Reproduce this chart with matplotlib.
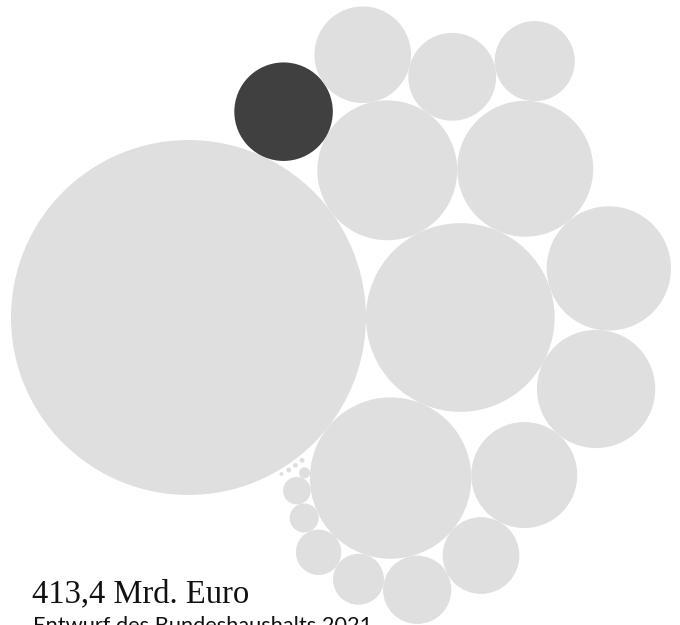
import math
import matplotlib
matplotlib.use("Agg")
import matplotlib.pyplot as plt
from matplotlib.patches import Circle

# Ausgaben je Einzelplan, Mrd. Euro (Kreisfläche proportional zum Betrag)
values = [164.9, 46.6, 34.1, 25.6, 24.2, 20.2, 18.3, 14.7, 12.7, 12.2,
          10.1, 8.4, 7.7, 6.1, 3.4, 2.7, 1.1, 1.0, 0.16,
          0.03, 0.03, 0.03, 0.02]
highlight = 8            # hervorgehobener Einzelplan
total_label = "413,4 Mrd. Euro"
subtitle = "Entwurf des Bundeshaushalts 2021"

LIGHT = "#dfdfdf"
DARK = "#404040"

W, H = 680, 625
R_SCALE = 13.82          # px per sqrt(Mrd. Euro)
BIG_LEFT, BIG_CY = 11.0, 317.5

radii = [R_SCALE * math.sqrt(v) for v in values]

# Packing rules: circle i touches circles a and b, on side s of a->b
rules = [
    (3, 0, 1, -1), (2, 0, 1, +1), (4, 3, 1, -1), (8, 0, 3, -1),
    (9, 8, 3, -1), (10, 9, 3, -1), (11, 10, 4, -1), (5, 4, 1, -1),
    (6, 5, 1, -1), (7, 6, 2, -1), (12, 7, 2, -1), (13, 12, 2, -1),
    (14, 13, 2, -1), (15, 14, 2, -1), (16, 15, 2, -1), (17, 16, 2, -1),
    (18, 17, 2, -1),
]


def touching(a, b, r, side):
    (xa, ya, ra), (xb, yb, rb) = a, b
    da, db = ra + r, rb + r
    dx, dy = xb - xa, yb - ya
    d = math.hypot(dx, dy)
    ux, uy = dx / d, dy / d
    along = (da * da - db * db + d * d) / (2 * d)
    h = math.sqrt(max(da * da - along * along, 0.0))
    nx, ny = -uy, ux
    return xa + along * ux + side * h * nx, ya + along * uy + side * h * ny


pos = {}
pos[0] = (BIG_LEFT + radii[0], BIG_CY, radii[0])
pos[1] = (pos[0][0] + radii[0] + radii[1], BIG_CY, radii[1])
for i, a, b, s in rules:
    x, y = touching(pos[a], pos[b], radii[i], s)
    pos[i] = (x, y, radii[i])

# the tiniest plans sit in a row along the rim of the largest circle
ring_gap, start_deg, step_deg = 2.6, 51.5, 2.6
for k, i in enumerate(range(19, len(values))):
    ang = math.radians(start_deg + k * step_deg)
    dist = radii[0] + ring_gap + radii[i]
    pos[i] = (pos[0][0] + dist * math.cos(ang), pos[0][1] + dist * math.sin(ang), radii[i])

fig = plt.figure(figsize=(W / 100, H / 100), dpi=100)
ax = fig.add_axes([0, 0, 1, 1])
ax.set_xlim(0, W)
ax.set_ylim(H, 0)
ax.set_aspect("equal")
ax.axis("off")

for i in range(len(values)):
    x, y, r = pos[i]
    ax.add_patch(Circle((x, y), r, facecolor=DARK if i == highlight else LIGHT,
                        edgecolor="none", linewidth=0))

ax.text(32, 602.5, total_label, fontsize=23.5, family="Liberation Serif",
        color="#111111", va="baseline", ha="left")
ax.text(33, 632, subtitle, fontsize=15.7, family="Lato",
        color="#111111", va="baseline", ha="left")

fig.savefig("out.png", dpi=100)
